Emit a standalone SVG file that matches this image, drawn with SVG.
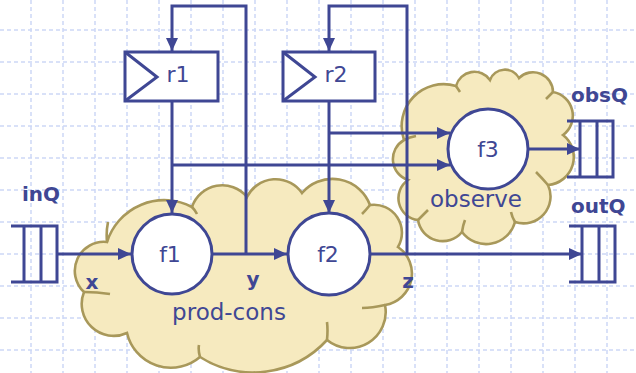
<svg xmlns="http://www.w3.org/2000/svg" width="636" height="373" viewBox="0 0 636 373">
<defs>
<marker id="ah" markerUnits="userSpaceOnUse" markerWidth="14" markerHeight="13" refX="13" refY="6" orient="auto">
<path d="M0,0 L13,6 L0,12 z" fill="#3f4794"/>
</marker>
</defs>
<style>
.grid line{stroke:#cdd8f6;stroke-width:1.5;stroke-dasharray:4 3}
.cloud{fill:#f6eabf;stroke:#a8985a;stroke-width:2.6}
.tail{fill:none;stroke:#a8985a;stroke-width:2.6}
.ln{fill:none;stroke:#3f4794;stroke-width:3}
.arr{fill:none;stroke:#3f4794;stroke-width:3;marker-end:url(#ah)}
.node{fill:#ffffff;stroke:#3f4794;stroke-width:3}
.q{fill:none;stroke:#3f4794;stroke-width:3}
.lbl{font-family:"DejaVu Sans","Liberation Sans",sans-serif;font-size:22px;fill:#3f4794;text-anchor:middle}
.big{font-size:23px}
.bold{font-family:"DejaVu Sans","Liberation Sans",sans-serif;font-size:20px;font-weight:bold;fill:#3f4794}
</style>
<rect width="636" height="373" fill="#ffffff"/>
<g class="grid">
<line x1="31" y1="0" x2="31" y2="373"/><line x1="63" y1="0" x2="63" y2="373"/><line x1="95" y1="0" x2="95" y2="373"/><line x1="127" y1="0" x2="127" y2="373"/><line x1="159" y1="0" x2="159" y2="373"/><line x1="191" y1="0" x2="191" y2="373"/><line x1="223" y1="0" x2="223" y2="373"/><line x1="255" y1="0" x2="255" y2="373"/><line x1="287" y1="0" x2="287" y2="373"/><line x1="319" y1="0" x2="319" y2="373"/><line x1="351" y1="0" x2="351" y2="373"/><line x1="383" y1="0" x2="383" y2="373"/><line x1="415" y1="0" x2="415" y2="373"/><line x1="447" y1="0" x2="447" y2="373"/><line x1="479" y1="0" x2="479" y2="373"/><line x1="511" y1="0" x2="511" y2="373"/><line x1="543" y1="0" x2="543" y2="373"/><line x1="575" y1="0" x2="575" y2="373"/><line x1="607" y1="0" x2="607" y2="373"/>
<line x1="0" y1="30" x2="636" y2="30"/><line x1="0" y1="62" x2="636" y2="62"/><line x1="0" y1="94" x2="636" y2="94"/><line x1="0" y1="126" x2="636" y2="126"/><line x1="0" y1="158" x2="636" y2="158"/><line x1="0" y1="190" x2="636" y2="190"/><line x1="0" y1="222" x2="636" y2="222"/><line x1="0" y1="254" x2="636" y2="254"/><line x1="0" y1="286" x2="636" y2="286"/><line x1="0" y1="318" x2="636" y2="318"/><line x1="0" y1="350" x2="636" y2="350"/>
</g>
<g id="prod-cons">
<path class="cloud" d="M84,292 A29,29 0 0 1 107,242 A60,60 0 0 1 192,207 A32,32 0 0 1 247,197 A32,32 0 0 1 302,193 A40,40 0 0 1 370,205 A28,28 0 0 1 398,247 A32,32 0 0 1 385,305 A36,36 0 0 1 327,340 A100,100 0 0 1 200,357 A45,45 0 0 1 127,333 A32,32 0 0 1 84,292 Z"/>
<path class="tail" d="M84,292 Q97,292 110,294 M107,242 Q106,232 108,222 M192,207 Q195,210 197,214 M370,205 Q366,210 362,214 M385,305 Q372,308 362,308 M327,340 Q328,330 327,322 M200,357 Q198,350 199,345"/>
<text class="lbl big" x="229" y="320">prod-cons</text>
</g>
<g id="observe">
<path class="cloud" d="M404,140 A42,42 0 0 1 456,86 A19,19 0 0 1 490,80 A16,16 0 0 1 519,78 A20,20 0 0 1 553,92 A24,24 0 0 1 563,135 A28,28 0 0 1 548,185 A27,27 0 0 1 515,222 A30,30 0 0 1 462,232 A25,25 0 0 1 418,220 A22,22 0 0 1 408,180 A22,22 0 0 1 404,140 Z"/>
<path class="tail" d="M404,140 Q410,137 416,136 M456,86 Q458,89 460,92 M553,92 Q549,96 546,99 M548,185 Q542,178 536,172 M515,222 Q512,217 511,212 M462,232 Q463,225 465,220 M418,220 Q424,214 428,210"/>
<text class="lbl big" x="476" y="207">observe</text>
</g>
<g id="connectors">
<path class="arr" d="M57,254 H131"/>
<path class="arr" d="M212,254 H287"/>
<path class="arr" d="M370,254 H582"/>
<path class="arr" d="M246,254 V6 H172 V51"/>
<path class="arr" d="M172,101 V213"/>
<path class="arr" d="M172,165 H450"/>
<path class="arr" d="M407,254 V6 H329 V51"/>
<path class="arr" d="M329,101 V213"/>
<path class="arr" d="M329,133 H450"/>
<path class="arr" d="M529,149 H580"/>
</g>
<g id="r1">
<rect class="node" x="125" y="52" width="93" height="49"/>
<path class="ln" d="M125,52 L157,77 L125,101"/>
<text class="lbl" x="178" y="82">r1</text>
</g>
<g id="r2">
<rect class="node" x="283" y="52" width="92" height="49"/>
<path class="ln" d="M283,52 L315,77 L283,101"/>
<text class="lbl" x="336" y="82">r2</text>
</g>
<g id="f1">
<circle class="node" cx="172" cy="254" r="40"/>
<text class="lbl" x="170" y="262">f1</text>
</g>
<g id="f2">
<circle class="node" cx="329" cy="254" r="41"/>
<text class="lbl" x="328" y="262">f2</text>
</g>
<g id="f3">
<circle class="node" cx="488" cy="149" r="40"/>
<text class="lbl" x="488" y="157">f3</text>
</g>
<g id="inQ">
<path class="q" d="M11,226 H57 V282 H11 M24,226 V282 M41,226 V282"/>
<text class="bold" x="22" y="201">inQ</text>
</g>
<g id="obsQ">
<path class="q" d="M567,121 H613 V177 H567 M580,121 V177 M597,121 V177"/>
<text class="bold" x="571" y="102">obsQ</text>
</g>
<g id="outQ">
<path class="q" d="M569,226 H615 V282 H569 M582,226 V282 M599,226 V282"/>
<text class="bold" x="571" y="213">outQ</text>
</g>
<g id="vars">
<text class="bold" x="92" y="289" text-anchor="middle">x</text>
<text class="bold" x="253" y="286" text-anchor="middle">y</text>
<text class="bold" x="408" y="288" text-anchor="middle">z</text>
</g>
</svg>
